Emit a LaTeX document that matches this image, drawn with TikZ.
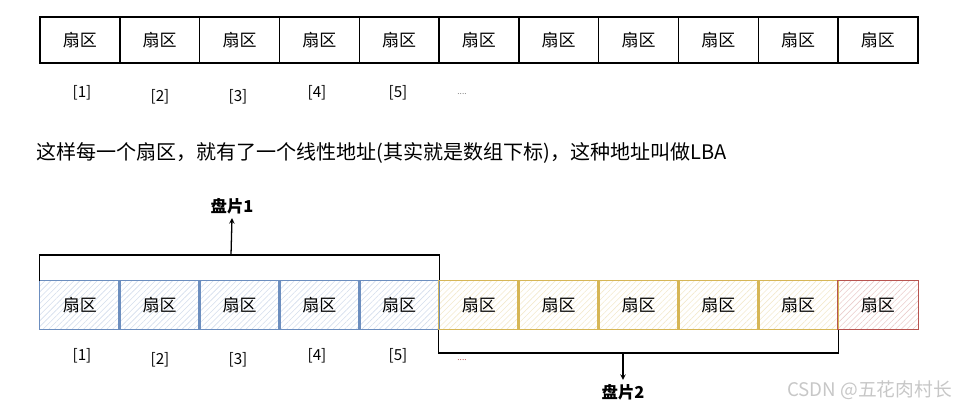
\documentclass[tikz,border=0pt]{standalone}
\usepackage{fontspec}
\setmainfont{Noto Sans CJK SC}
\usepackage{tikz}
\usetikzlibrary{patterns, patterns.meta}

\definecolor{xanhvien}{HTML}{6C8EBF}
\definecolor{xanhnen}{HTML}{DAE8FC}
\definecolor{vangvien}{HTML}{D6B656}
\definecolor{vangnen}{HTML}{FFF2CC}
\definecolor{dovien}{HTML}{B85450}
\definecolor{donen}{HTML}{F8CECC}

\tikzset{
    sector/.style={draw, line width=1.2pt, minimum width=79.8*0.03cm, inner sep=0pt,
        font=\fontsize{14.5pt}{16pt}\selectfont},
    hatch/.style={sector, draw=none, fill=#1nen!35,
        pattern={Lines[angle=45, distance=3.5pt, line width=0.5pt]}, pattern color=#1vien!30},
    idx/.style={font=\fontsize{13pt}{15pt}\selectfont},
    bracket/.style={line width=1.1pt},
    disk/.style={font=\bfseries\fontsize{14pt}{16pt}\selectfont}
}

\begin{document}
\begin{tikzpicture}[x=0.03cm, y=-0.03cm, >=stealth]
            \useasboundingbox (0, 0) rectangle (956, 407);

            % Hàng trên: 11 sector
            \foreach \i in {1,...,11}
                \node[sector, minimum height=46*0.03cm] (a\i) at ({40 + 79.8*(\i-0.5)}, 40) {扇区};

            % Chỉ số bên dưới
            \foreach \i/\x/\y in {1/82/93, 2/160/97, 3/238/97, 4/317/93, 5/398/93}
                \node[idx] (ia\i) at (\x, \y) {[\i]};
            \node[font=\fontsize{7pt}{8pt}\selectfont, text=gray] (ia6) at (462, 94) {....};

            % Dòng chú thích
            \node[anchor=west, font=\fontsize{17.1pt}{20pt}\selectfont] (chu) at (32, 153)
                {这样每一个扇区，就有了一个线性地址(其实就是数组下标)，这种地址叫做LBA};

            % Hàng dưới: đĩa 1 (xanh), đĩa 2 (vàng), phần còn lại (đỏ)
            \foreach \i in {1,...,5}
                \node[hatch=xanh, minimum height=48*0.03cm] (b\i) at ({40 + 79.8*(\i-0.5)}, 305) {扇区};
            \foreach \i in {6,...,10}
                \node[hatch=vang, minimum height=48*0.03cm] (b\i) at ({40 + 79.8*(\i-0.5)}, 305) {扇区};
            \node[hatch=do, minimum height=48*0.03cm] (b11) at ({40 + 79.8*10.5}, 305) {扇区};

            % Viền của từng ô
            \foreach \i/\c in {1/xanh, 2/xanh, 3/xanh, 4/xanh, 5/xanh,
                               6/vang, 7/vang, 8/vang, 9/vang, 10/vang, 11/do}
                \draw[\c vien, line width=1.2pt] (b\i.north west) rectangle (b\i.south east);

            % Chỉ số bên dưới
            \foreach \i/\x/\y in {1/82/356, 2/160/360, 3/238/360, 4/317/356, 5/398/356}
                \node[idx] (ib\i) at (\x, \y) {[\i]};
            \node[font=\fontsize{7pt}{8pt}\selectfont, text=dovien] (ib6) at (462, 360) {....};

            % Ngoặc và nhãn đĩa 1
            \node[disk] (d1) at (232, 206) {盘片1};
            \coordinate (m1) at (231, 255);
            \draw[bracket] (b1.north west) |- (m1) -| (b5.north east);
            \draw[bracket, ->] (m1) -- (d1.south);

            % Ngoặc và nhãn đĩa 2
            \node[disk] (d2) at (623, 392) {盘片2};
            \coordinate (m2) at (623, 353);
            \draw[bracket] (b6.south west) |- (m2) -| (b10.south east);
            \draw[bracket, ->] (m2) -- (d2.north);

            % Chữ ký
            \node[anchor=east, text=black!22, font=\fontsize{16pt}{18pt}\selectfont] (ky) at (956, 390) {CSDN @五花肉村长};
        \end{tikzpicture}
\end{document}
